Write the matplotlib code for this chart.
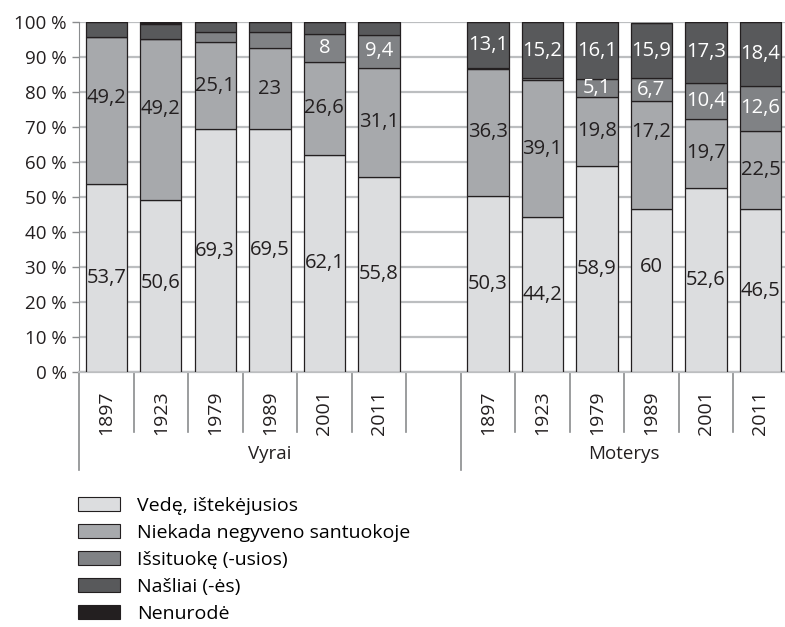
import numpy as np
import matplotlib.pyplot as plt
from matplotlib.patches import Patch

plt.rcParams['font.family'] = ['Open Sans', 'DejaVu Sans']

years = ['1897', '1923', '1979', '1989', '2001', '2011']
groups = ['Vyrai', 'Moterys']
categories = ['Vedę, ištekėjusios', 'Niekada negyveno santuokoje',
              'Išsituokę (-usios)', 'Našliai (-ės)', 'Nenurodė']

# segment heights as drawn in the picture (men, then women)
married_m = [53.7, 49.1, 69.3, 69.5, 62.1, 55.8]
never_m = [42.1, 46.0, 25.1, 23.0, 26.6, 31.1]
divorced_m = [0.0, 0.0, 2.8, 4.7, 8.0, 9.4]
widowed_m = [4.2, 4.3, 2.8, 2.8, 3.3, 3.7]
unknown_m = [0.0, 0.6, 0.0, 0.0, 0.0, 0.0]

married_f = [50.3, 44.2, 58.9, 46.6, 52.6, 46.5]
never_f = [36.3, 39.1, 19.8, 30.8, 19.7, 22.5]
divorced_f = [0.3, 0.8, 5.1, 6.5, 10.4, 12.6]
widowed_f = [13.1, 15.9, 16.1, 15.9, 17.3, 18.4]
unknown_f = [0.0, 0.0, 0.0, 0.0, 0.0, 0.0]

# values printed on the bars (None = no label)
married_lbl_m = [53.7, 50.6, 69.3, 69.5, 62.1, 55.8]
never_lbl_m = [49.2, 49.2, 25.1, 23, 26.6, 31.1]
divorced_lbl_m = [None, None, None, None, 8, 9.4]
widowed_lbl_m = [None] * 6

married_lbl_f = [50.3, 44.2, 58.9, 60, 52.6, 46.5]
never_lbl_f = [36.3, 39.1, 19.8, 17.2, 19.7, 22.5]
divorced_lbl_f = [None, None, 5.1, 6.7, 10.4, 12.6]
widowed_lbl_f = [13.1, 15.2, 16.1, 15.9, 17.3, 18.4]

colors = ['#dcdddf', '#a7a9ac', '#808285', '#58595b', '#231f20']
text_colors = ['#231f20', '#231f20', 'white', 'white', 'white']
edge = '#231f20'
gray = '#8a8c8e'

heights = np.array([married_m + married_f, never_m + never_f,
                    divorced_m + divorced_f, widowed_m + widowed_f,
                    unknown_m + unknown_f])
labels = [married_lbl_m + married_lbl_f, never_lbl_m + never_lbl_f,
          divorced_lbl_m + divorced_lbl_f, widowed_lbl_m + widowed_lbl_f,
          [None] * 12]

x = np.r_[np.arange(6), np.arange(7, 13)]

fig = plt.figure(figsize=(7.85, 6.27), dpi=100)
ax = fig.add_axes([79 / 785, 255 / 627, 706 / 785, 350 / 627])

bottom = np.zeros(12)
lbl_bottom = np.zeros(12)
for k in range(5):
    ax.bar(x, heights[k], 0.76, bottom=bottom, color=colors[k],
           edgecolor=edge, linewidth=0.9, zorder=3)
    # labels sit where the printed values would put them
    for i in range(12):
        v = labels[k][i]
        if v is not None:
            ax.text(x[i], lbl_bottom[i] + v / 2, f'{v:g}'.replace('.', ','),
                    ha='center', va='center', fontsize=14.5,
                    color=text_colors[k], zorder=4)
            lbl_bottom[i] += v
        else:
            lbl_bottom[i] += heights[k][i]
    bottom += heights[k]

ax.set_xlim(-0.5, 12.45)
ax.set_ylim(0, 100)
ax.set_yticks(range(0, 101, 10))
ax.set_yticklabels([f'{t} %' for t in range(0, 101, 10)], fontsize=13.5,
                   color='#231f20')
ax.tick_params(axis='y', length=5, width=1, color=gray, pad=4)
ax.set_xticks([])
ax.grid(axis='y', color='#bcbec0', linewidth=1.6, zorder=0)
for s in ['top', 'right']:
    ax.spines[s].set_visible(False)
ax.spines['left'].set_color(gray)
ax.spines['bottom'].set_color('#bcbec0')
ax.spines['bottom'].set_linewidth(1.6)

# category axis: year labels, dividers and group names
tr = ax.get_xaxis_transform()
for i, yr in enumerate(years + years):
    ax.text(x[i], -0.053, yr, rotation=90, ha='center', va='top',
            fontsize=14, color='#231f20', transform=tr)
for d in list(np.arange(0.5, 6)) + list(np.arange(7.5, 12)):
    ax.plot([d, d], [0, -0.172], color=gray, lw=1.2, transform=tr,
            clip_on=False)
for d in [-0.5, 6.5]:
    ax.plot([d, d], [0, -0.28], color=gray, lw=1.2, transform=tr,
            clip_on=False)
ax.text(3.0, -0.235, groups[0], ha='center', va='center', fontsize=13.5,
        color='#231f20', transform=tr)
ax.text(9.5, -0.235, groups[1], ha='center', va='center', fontsize=13.5,
        color='#231f20', transform=tr)

handles = [Patch(facecolor=c, edgecolor=edge, linewidth=0.8) for c in colors]
fig.legend(handles, categories, loc='upper left',
           bbox_to_anchor=(78 / 785, 1 - 497 / 627), frameon=False,
           fontsize=14, handlelength=2.16, handleheight=0.69,
           labelspacing=0.46, handletextpad=0.87, borderpad=0,
           borderaxespad=0)

fig.savefig('out.png', dpi=100)
